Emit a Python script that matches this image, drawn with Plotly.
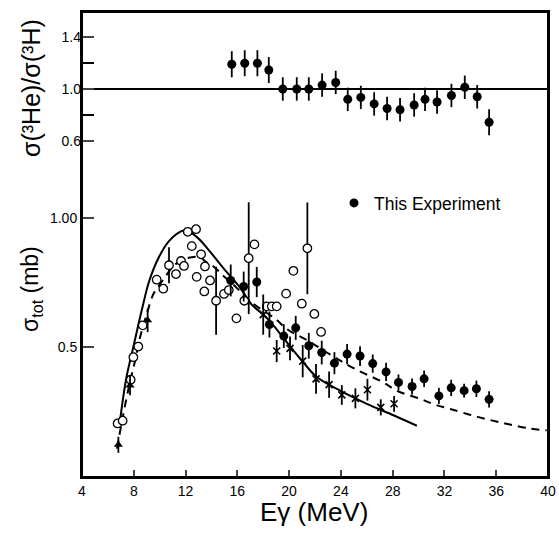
import math
import plotly.graph_objects as go

# ---------------- data ----------------
# ratio sigma(3He)/sigma(3H), this experiment
ratio_E = [15.57, 16.57, 17.55, 18.43, 19.51, 20.59, 21.52, 22.55, 23.6, 24.53, 25.54,
           26.57, 27.57, 28.57, 29.66, 30.5, 31.43, 32.54, 33.57, 34.53, 35.45]
ratio_val = [1.19, 1.198, 1.198, 1.146, 1.0, 1.0, 1.0, 1.03, 1.05, 0.92, 0.935,
             0.885, 0.85, 0.84, 0.877, 0.92, 0.90, 0.95, 1.013, 0.94, 0.744]
ratio_err = [0.10, 0.10, 0.10, 0.10, 0.09, 0.09, 0.09, 0.09, 0.09, 0.09, 0.09,
             0.09, 0.09, 0.09, 0.09, 0.09, 0.09, 0.09, 0.09, 0.09, 0.10]

# total cross section, this experiment (filled circles)
exp_E = [15.49, 16.49, 17.5, 18.48, 19.59, 20.51, 21.52, 22.52, 23.5, 24.48, 25.48,
         26.46, 27.49, 28.45, 29.5, 30.43, 31.57, 32.52, 33.52, 34.47, 35.45]
exp_sig = [0.716, 0.693, 0.710, 0.565, 0.531, 0.555, 0.504, 0.486, 0.459, 0.482, 0.477,
           0.458, 0.438, 0.414, 0.405, 0.422, 0.385, 0.402, 0.396, 0.400, 0.378]
exp_err = [0.064, 0.058, 0.060, 0.041, 0.035, 0.037, 0.036, 0.032, 0.028, 0.027, 0.026,
           0.023, 0.022, 0.018, 0.018, 0.019, 0.017, 0.018, 0.015, 0.018, 0.017]

# other measurements (open circles)
oc_E = [6.75, 7.14, 7.76, 7.97, 8.35, 8.69, 9.77, 10.28, 10.72, 11.26, 11.65, 11.88,
        12.17, 12.81, 12.48, 12.86, 13.2, 13.5, 13.45, 13.89, 14.36, 14.97, 15.34,
        15.93, 16.54, 16.88, 17.32, 18.27, 18.66, 19.04, 19.77, 20.33, 20.98, 21.41,
        21.95, 22.47]
oc_sig = [0.332, 0.337, 0.420, 0.474, 0.502, 0.5625, 0.719, 0.685, 0.777, 0.741, 0.795,
          0.774, 0.930, 0.943, 0.861, 0.730, 0.824, 0.772, 0.675, 0.716, 0.642, 0.666,
          0.680, 0.584, 0.642, 0.807, 0.869, 0.623, 0.623, 0.623, 0.667, 0.754, 0.632,
          0.851, 0.598, 0.543]
oc_err = [0, 0, 0, 0, 0, 0, 0, 0, 0.079, 0, 0, 0, 0, 0, 0, 0, 0, 0, 0, 0, 0.129, 0, 0,
          0, 0, 0.283, 0, 0, 0, 0, 0, 0, 0, 0.238, 0, 0]

# crosses
cr_E = [18.0, 19.04, 20.07, 21.05, 22.08, 23.09, 24.07, 25.12, 26.05, 27.08, 28.11]
cr_sig = [0.596, 0.490, 0.497, 0.464, 0.422, 0.409, 0.387, 0.380, 0.398, 0.362, 0.369]
cr_err = [0.068, 0.030, 0.033, 0.042, 0.035, 0.030, 0.021, 0.021, 0.024, 0.016, 0.016]

# triangles
tr_E = [6.81, 7.71, 9.07]
tr_sig = [0.296, 0.407, 0.578]
tr_err = [0.013, 0.022, 0.038]

# theory curves
solid_E = [6.9, 7.4, 7.96, 8.15, 8.66, 9.18, 9.90, 10.67, 11.57, 11.96, 12.86, 13.89,
           14.92, 16.21, 17.11, 18.14, 19.05, 20.07, 21.10, 22.14, 23.94, 26.0, 28.06, 29.87]
solid_sig = [0.33, 0.42, 0.50, 0.53, 0.618, 0.712, 0.807, 0.881, 0.930, 0.936, 0.905, 0.836,
             0.765, 0.689, 0.629, 0.591, 0.550, 0.503, 0.461, 0.426, 0.396, 0.369, 0.347, 0.328]

dash_E = [6.7, 7.2, 7.7, 8.1, 8.5, 9.0, 9.5, 10.0, 10.5, 11.0, 11.6, 12.35, 13.1, 13.6,
          14.2, 15.0, 15.95, 16.85, 17.5, 18.92, 19.88, 21.36, 23.36, 25.1, 27.34, 28.32,
          30.12, 31.2, 32.44, 34.56, 36.69, 38.62, 39.9]
dash_sig = [0.29, 0.35, 0.414, 0.465, 0.53, 0.597, 0.664, 0.70, 0.735, 0.77, 0.795, 0.81,
            0.812, 0.79, 0.77, 0.73, 0.688, 0.646, 0.623, 0.583, 0.550, 0.520, 0.477, 0.445,
            0.413, 0.396, 0.379, 0.368, 0.359, 0.344, 0.332, 0.323, 0.320]

ref_E = [4, 40]
ref_ratio = [1.0, 1.0]

x_ticks = [4, 8, 12, 16, 20, 24, 28, 32, 36, 40]
sig_ticks = [0.5, 1.0]
sig_ticktext = ["0.5", "1.00"]
ratio_ticks = [0.6, 1.0, 1.4]
ratio_ticktext = ["0.6", "1.0", "1.4"]
ratio_minor_ticks = [0.8, 1.2]

FONT = "Liberation Sans"
BLACK = "black"

# page layout: figure fills the page (body margin removed below)
W, H = 559, 533
PLOT_L, PLOT_R, PLOT_T, PLOT_B = 82, 548, 12, 477   # plot box in page pixels
ML, MT = PLOT_L, PLOT_T
MR, MB = W - PLOT_R, H - PLOT_B
PW, PH = PLOT_R - PLOT_L, PLOT_B - PLOT_T


def px_x(x):
    return (x - PLOT_L) / PW


def px_y(y):
    return (PLOT_B - y) / PH


def log_err(vals, ups):
    # upper errors given; lower ones chosen symmetric in log space
    minus = []
    for v, u in zip(vals, ups):
        f = 1 + u / v
        minus.append(v * (1 - 1 / f))
    return dict(type="data", array=ups, arrayminus=minus, visible=True,
                color=BLACK, thickness=1.8, width=0)


fig = go.Figure()

# theory curves
fig.add_trace(go.Scatter(x=solid_E, y=solid_sig, mode="lines",
                         line=dict(color=BLACK, width=2, shape="spline"),
                         showlegend=False, hoverinfo="skip"))
fig.add_trace(go.Scatter(x=dash_E, y=dash_sig, mode="lines",
                         line=dict(color=BLACK, width=2, dash="8px,6px", shape="spline"),
                         showlegend=False, hoverinfo="skip"))

# open circles
fig.add_trace(go.Scatter(x=oc_E, y=oc_sig, mode="markers",
                         marker=dict(symbol="circle", size=8.5, color="white",
                                     line=dict(color=BLACK, width=1.3)),
                         error_y=log_err(oc_sig, oc_err), showlegend=False))
# crosses
fig.add_trace(go.Scatter(x=cr_E, y=cr_sig, mode="markers",
                         marker=dict(symbol="x-thin-open", size=7, color=BLACK,
                                     line=dict(color=BLACK, width=1.6)),
                         error_y=log_err(cr_sig, cr_err), showlegend=False))
# triangles
fig.add_trace(go.Scatter(x=tr_E, y=tr_sig, mode="markers",
                         marker=dict(symbol="triangle-up", size=8, color=BLACK),
                         error_y=log_err(tr_sig, tr_err), showlegend=False))
# this experiment
fig.add_trace(go.Scatter(x=exp_E, y=exp_sig, mode="markers",
                         marker=dict(symbol="circle", size=9, color=BLACK),
                         error_y=log_err(exp_sig, exp_err), showlegend=False))

# ratio panel
fig.add_trace(go.Scatter(x=ref_E, y=ref_ratio, mode="lines", line=dict(color=BLACK, width=2),
                         yaxis="y2", showlegend=False, hoverinfo="skip"))
fig.add_trace(go.Scatter(x=ratio_E, y=ratio_val, mode="markers", yaxis="y2",
                         marker=dict(symbol="circle", size=9, color=BLACK),
                         error_y=dict(type="data", array=ratio_err, visible=True, color=BLACK,
                                      thickness=1.8, width=0),
                         showlegend=False))

# legend entry
fig.add_trace(go.Scatter(x=[None], y=[None], mode="markers", name="This Experiment",
                         marker=dict(symbol="circle", size=9, color=BLACK)))

lo = math.log10(0.249)
hi = math.log10(3.03)

fig.update_layout(
    width=W, height=H,
    margin=dict(l=ML, r=MR, t=MT, b=MB, autoexpand=False),
    paper_bgcolor="white", plot_bgcolor="white",
    font=dict(family=FONT, color=BLACK, size=14),
    xaxis=dict(range=[4, 40], tickvals=x_ticks, ticks="inside", ticklen=7, tickwidth=2,
               showline=True, linewidth=2, linecolor=BLACK, mirror=True, showgrid=False,
               zeroline=False, automargin=False, ticklabeloverflow="allow",
               tickfont=dict(size=14, family=FONT)),
    yaxis=dict(type="log", range=[lo, hi], tickvals=sig_ticks, ticktext=sig_ticktext,
               ticks="inside", ticklen=12, tickwidth=2, showline=True, linewidth=2,
               linecolor=BLACK, mirror=True, showgrid=False, zeroline=False, automargin=False,
               tickfont=dict(size=14, family=FONT)),
    yaxis2=dict(range=[-1.985, 1.592], overlaying="y", side="left", tickvals=ratio_ticks,
                ticktext=ratio_ticktext, ticks="inside", ticklen=12, tickwidth=2,
                minor=dict(tickvals=ratio_minor_ticks, ticks="inside", ticklen=12,
                           tickwidth=2, tickcolor=BLACK, showgrid=False),
                showline=False, showgrid=False, zeroline=False, automargin=False,
                tickfont=dict(size=14, family=FONT)),
    showlegend=True,
    legend=dict(x=px_x(334), y=px_y(203), xanchor="left", yanchor="middle",
                bgcolor="rgba(0,0,0,0)", font=dict(size=17.5, family=FONT), itemwidth=30),
    shapes=[dict(type="rect", xref="paper", yref="paper", x0=0, x1=1, y0=0, y1=1,
                 line=dict(color=BLACK, width=2), layer="above")],
    annotations=[
        dict(text="σ(³He)/σ(³H)", x=px_x(31), y=px_y(88), xref="paper", yref="paper",
             xanchor="center", yanchor="middle", showarrow=False, textangle=-90,
             font=dict(size=25, family=FONT)),
        dict(text="σ<sub>tot</sub> (mb)", x=px_x(31), y=px_y(289), xref="paper", yref="paper",
             xanchor="center", yanchor="middle", showarrow=False, textangle=-90,
             font=dict(size=23, family=FONT)),
        dict(text="Eγ (MeV)", x=px_x(314), y=px_y(512), xref="paper", yref="paper",
             xanchor="center", yanchor="middle", showarrow=False,
             font=dict(size=26, family=FONT)),
    ],
)

fig.write_html(
    "out.html",
    config={"displayModeBar": False},
    post_script="document.body.style.margin='0';document.body.style.overflow='hidden';",
)
